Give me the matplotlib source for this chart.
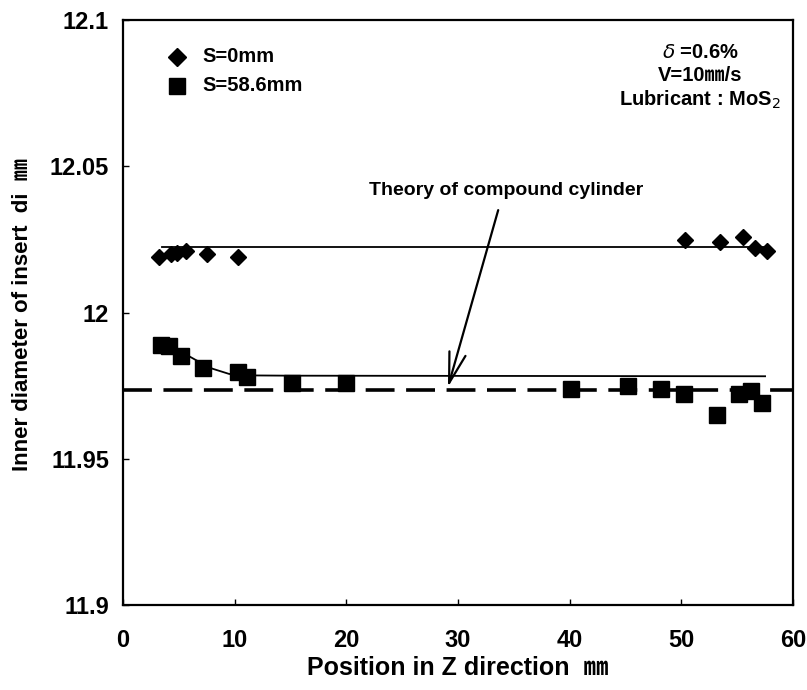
import matplotlib
matplotlib.use("Agg")
import matplotlib.pyplot as plt
import numpy as np

# --- data ---
s0_x = [3.2, 4.3, 4.85, 5.6, 7.5, 10.3, 50.3, 53.5, 55.5, 56.6, 57.7]
s0_y = [12.019, 12.020, 12.0205, 12.021, 12.020, 12.019, 12.0248, 12.0242, 12.0258, 12.022, 12.021]
s586_x = [3.4, 4.1, 5.2, 7.2, 10.3, 11.1, 15.1, 20.0, 40.1, 45.2, 48.2, 50.2, 53.2, 55.2, 56.2, 57.2]
s586_y = [11.9889, 11.9885, 11.985, 11.981, 11.9797, 11.978, 11.976, 11.976,
          11.974, 11.975, 11.974, 11.972, 11.965, 11.972, 11.973, 11.969]
fit0_x = [3.5, 57.5]
fit0_y = [12.0225, 12.0225]
fit586_x = [3.8, 5.0, 6.5, 8.0, 9.5, 11.0, 15.0, 57.5]
fit586_y = [11.9888, 11.9870, 11.9838, 11.9808, 11.9790, 11.9785, 11.9784, 11.9782]
theory_x = [0, 60]
theory_y = [11.9735, 11.9735]
xticks = [0, 10, 20, 30, 40, 50, 60]
yticks = [11.9, 11.95, 12.0, 12.05, 12.1]
ytick_labels = ["11.9", "11.95", "12", "12.05", "12.1"]

FAM = ["Liberation Sans", "Noto Sans CJK JP", "DejaVu Sans"]
plt.rcParams["font.family"] = FAM

fig = plt.figure(figsize=(8.07, 6.90), dpi=100)
ax = fig.add_axes([123/807, 1-605/690, (793-123)/807, (605-20)/690])

ax.plot(fit0_x, fit0_y, color="black", lw=1.3)
ax.plot(fit586_x, fit586_y, color="black", lw=1.3)
ax.plot(theory_x, theory_y, color="black", lw=2.6, ls=(0, (8, 3.2)))
ax.plot(s0_x, s0_y, ls="none", marker="D", ms=8, color="black")
ax.plot(s586_x, s586_y, ls="none", marker="s", ms=11, color="black")

ax.set_xlim(0, 60)
ax.set_ylim(11.9, 12.1)
ax.set_xticks(xticks)
ax.set_xticklabels([str(v) for v in xticks], fontsize=17, fontweight="bold")
ax.set_yticks(yticks)
ax.set_yticklabels(ytick_labels, fontsize=17, fontweight="bold")
ax.tick_params(direction="in", length=4, width=1, pad=10)
ax.tick_params(axis="x", pad=17)
for sp in ax.spines.values():
    sp.set_linewidth(1.6)

ax.set_xlabel("Position in Z direction  ㎜", fontsize=18, fontweight="bold", labelpad=3)
ax.set_ylabel("Inner diameter of insert  di  ㎜", fontsize=16, fontweight="bold")
ax.yaxis.set_label_coords(-0.135, 0.496)

# legend-like labels
ax.plot([4.8], [12.0875], ls="none", marker="D", ms=9, color="black")
ax.plot([4.8], [12.0775], ls="none", marker="s", ms=11, color="black")
ax.text(7.1, 12.0875, "S=0mm", fontsize=14.5, fontweight="bold", va="center")
ax.text(7.1, 12.0775, "S=58.6mm", fontsize=14.5, fontweight="bold", va="center")

ax.text(51.7, 12.0805, "$\\delta$ =0.6%\nV=10㎜/s\nLubricant : MoS$_2$", fontsize=14.5, fontweight="bold",
        ha="center", va="center", multialignment="center", linespacing=1.25)

ax.text(34.3, 12.0418, "Theory of compound cylinder", fontsize=14, fontweight="bold",
        ha="center", va="center")
ax.annotate("", xy=(29.1, 11.9745), xytext=(33.6, 12.035),
            arrowprops=dict(arrowstyle="->, head_length=1.1, head_width=0.3", color="black",
                            lw=1.6, mutation_scale=20, shrinkA=0, shrinkB=0))

fig.savefig("out.png", dpi=100)
